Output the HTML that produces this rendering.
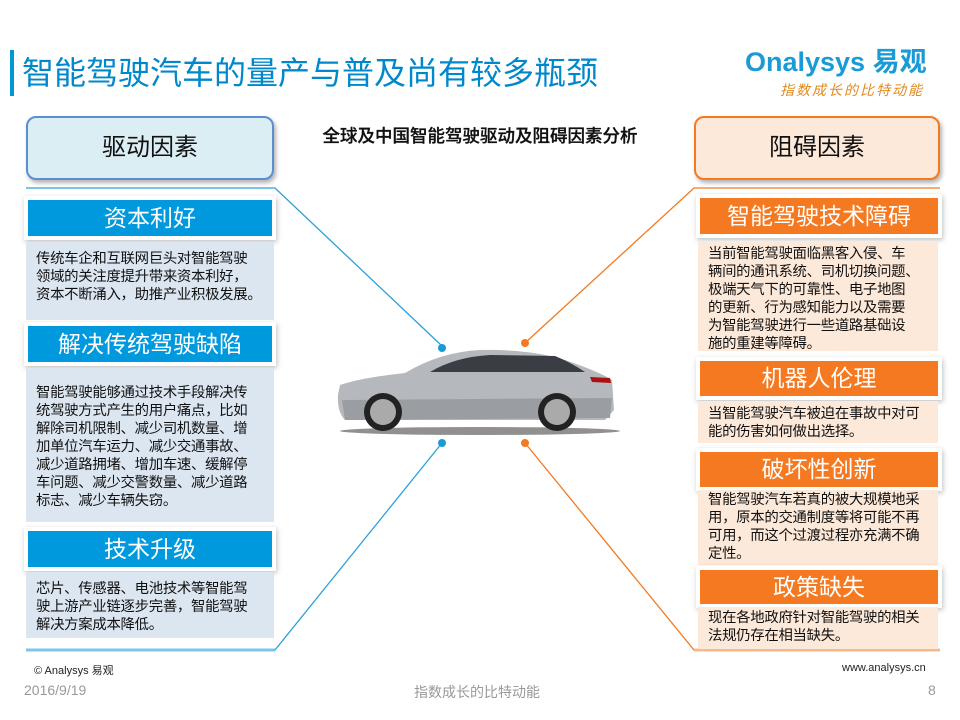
<!DOCTYPE html>
<html><head><meta charset="utf-8"><style>
body{margin:0;width:960px;height:720px;background:#fff;position:relative;overflow:hidden;font-family:"Liberation Sans","Noto Sans CJK SC",sans-serif}
.a{position:absolute}
.hd{position:absolute;border-radius:10px;font-size:24px;text-align:center;line-height:60px;color:#111}
.bar{position:absolute;color:#fff;font-size:23px;text-align:center;box-shadow:0 0 0 4px #fff,1px 2px 5px 4px rgba(0,0,0,.25)}
.tx{position:absolute;font-size:14.4px;line-height:18px;color:#111;padding:8px 4px 8px 10px;box-sizing:border-box;letter-spacing:-0.3px;white-space:nowrap;overflow:hidden}
.b{background:#0099dd}.o{background:#f47920}
.lb{background:#dce6f1}.lo{background:#fde9d9}
</style></head><body>
<div class="a" style="left:10px;top:50px;width:4px;height:46px;background:#0096d6"></div>
<div class="a" style="left:22px;top:50px;font-size:32px;color:#0088cc;line-height:46px">智能驾驶汽车的量产与普及尚有较多瓶颈</div>
<div class="a" style="left:745px;top:40px;font-size:27px;color:#1a9ad6;font-weight:bold">Onalysys <span>易观</span></div>
<div class="a" style="left:780px;top:80px;font-size:14px;color:#e08a20;letter-spacing:2px;font-style:italic">指数成长的比特动能</div>
<div class="a" style="left:280px;top:123px;width:400px;text-align:center;font-size:17.5px;color:#111;font-weight:500;-webkit-text-stroke:0.3px #111">全球及中国智能驾驶驱动及阻碍因素分析</div>

<div class="hd" style="left:26px;top:116px;width:244px;height:60px;background:#dbeef4;border:2px solid #5b8fd0;box-shadow:2px 3px 4px rgba(0,0,0,.3)">驱动因素</div>
<div class="hd" style="left:694px;top:116px;width:242px;height:60px;background:#fde9d9;border:2px solid #f47920;box-shadow:2px 3px 4px rgba(0,0,0,.3)">阻碍因素</div>

<svg class="a" style="left:0;top:0" width="960" height="720">
<polyline points="26,188 275,188 442,346" fill="none" stroke="#2aa0dc" stroke-width="1.3"/>
<polyline points="26,650 275,650 442,443" fill="none" stroke="#2aa0dc" stroke-width="1.3"/>
<polyline points="940,188 694,188 525,343" fill="none" stroke="#f47920" stroke-width="1.3"/>
<polyline points="940,650 694,650 525,443" fill="none" stroke="#f47920" stroke-width="1.3"/>
<line x1="26" y1="650" x2="275" y2="650" stroke="#7cc4ea" stroke-width="3"/>
<line x1="694" y1="650" x2="940" y2="650" stroke="#f8b88a" stroke-width="3"/>
<circle cx="442" cy="348" r="4" fill="#1a9ad6"/><circle cx="525" cy="343" r="4" fill="#f47920"/>
<circle cx="442" cy="443" r="4" fill="#1a9ad6"/><circle cx="525" cy="443" r="4" fill="#f47920"/>
<ellipse cx="480" cy="431" rx="140" ry="4" fill="#222" opacity=".5"/>
<path d="M338,395 L340,385 Q360,378 405,373 Q440,352 480,350 Q530,349 565,360 Q600,372 612,380 L614,410 L605,420 L345,420 Q337,412 338,395Z" fill="#b5b8bc"/>
<path d="M430,372 Q455,357 490,355 L555,356 Q570,362 585,372Z" fill="#3a3e44"/>
<path d="M342,400 L612,398 L610,418 L345,420Z" fill="#9a9da2"/>
<circle cx="383" cy="412" r="19" fill="#222"/><circle cx="383" cy="412" r="13" fill="#aaa"/>
<circle cx="557" cy="412" r="19" fill="#222"/><circle cx="557" cy="412" r="13" fill="#aaa"/>
<path d="M590,377 L610,378 L611,383 L592,382Z" fill="#a11"/>
</svg>

<div class="bar b" style="left:28px;top:200px;width:244px;height:36px;line-height:36px">资本利好</div>
<div class="tx lb" style="left:26px;top:242px;width:248px;height:78px">传统车企和互联网巨头对智能驾驶<br>领域的关注度提升带来资本利好，<br>资本不断涌入，助推产业积极发展。</div>
<div class="bar b" style="left:28px;top:326px;width:244px;height:36px;line-height:36px">解决传统驾驶缺陷</div>
<div class="tx lb" style="left:26px;top:368px;width:248px;height:154px;padding-top:16px">智能驾驶能够通过技术手段解决传<br>统驾驶方式产生的用户痛点，比如<br>解除司机限制、减少司机数量、增<br>加单位汽车运力、减少交通事故、<br>减少道路拥堵、增加车速、缓解停<br>车问题、减少交警数量、减少道路<br>标志、减少车辆失窃。</div>
<div class="bar b" style="left:28px;top:531px;width:244px;height:36px;line-height:36px">技术升级</div>
<div class="tx lb" style="left:26px;top:572px;width:248px;height:66px">芯片、传感器、电池技术等智能驾<br>驶上游产业链逐步完善，智能驾驶<br>解决方案成本降低。</div>

<div class="bar o" style="left:700px;top:198px;width:238px;height:36px;line-height:36px">智能驾驶技术障碍</div>
<div class="tx lo" style="left:698px;top:241px;width:240px;height:110px;padding:4px 2px 0 10px">当前智能驾驶面临黑客入侵、车<br>辆间的通讯系统、司机切换问题、<br>极端天气下的可靠性、电子地图<br>的更新、行为感知能力以及需要<br>为智能驾驶进行一些道路基础设<br>施的重建等障碍。</div>
<div class="bar o" style="left:700px;top:361px;width:238px;height:35px;line-height:35px">机器人伦理</div>
<div class="tx lo" style="left:698px;top:401px;width:240px;height:42px;padding:4px 2px 0 10px">当智能驾驶汽车被迫在事故中对可<br>能的伤害如何做出选择。</div>
<div class="bar o" style="left:700px;top:452px;width:238px;height:35px;line-height:35px">破坏性创新</div>
<div class="tx lo" style="left:698px;top:490px;width:240px;height:75px;padding:1px 2px 0 10px">智能驾驶汽车若真的被大规模地采<br>用，原本的交通制度等将可能不再<br>可用，而这个过渡过程亦充满不确<br>定性。</div>
<div class="bar o" style="left:700px;top:570px;width:238px;height:34px;line-height:34px">政策缺失</div>
<div class="tx lo" style="left:698px;top:607px;width:240px;height:42px;padding:2px 2px 0 10px">现在各地政府针对智能驾驶的相关<br>法规仍存在相当缺失。</div>

<div class="a" style="left:34px;top:662px;font-size:11px;color:#222">© Analysys 易观</div>
<div class="a" style="left:842px;top:662px;font-size:11px;color:#222">www.analysys.cn</div>
<div class="a" style="left:24px;top:682px;font-size:14px;color:#999">2016/9/19</div>
<div class="a" style="left:414px;top:682px;font-size:14px;color:#999">指数成长的比特动能</div>
<div class="a" style="left:928px;top:682px;font-size:14px;color:#999">8</div>
</body></html>
